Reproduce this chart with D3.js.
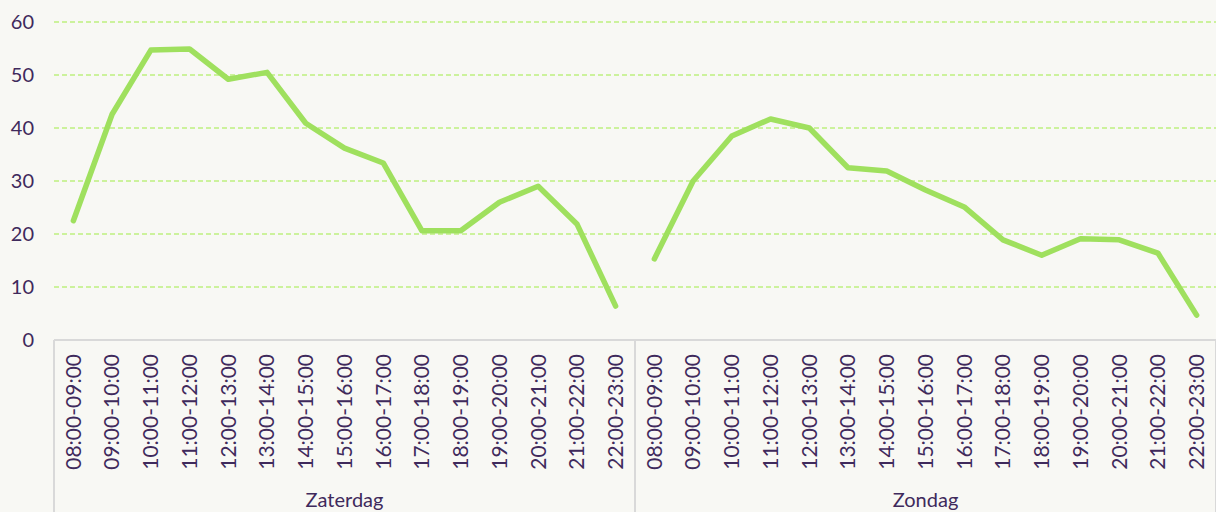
<html>
<head>
<style>
  body { margin: 0; background: #f8f8f4; }
  svg { display: block; font-family: Lato, "Open Sans", sans-serif; }
</style>
</head>
<body>
<script src="https://d3js.org/d3.v7.min.js"></script>
<script>
var days = ['Zaterdag', 'Zondag'];
var hours = ['08:00-09:00', '09:00-10:00', '10:00-11:00', '11:00-12:00', '12:00-13:00',
             '13:00-14:00', '14:00-15:00', '15:00-16:00', '16:00-17:00', '17:00-18:00',
             '18:00-19:00', '19:00-20:00', '20:00-21:00', '21:00-22:00', '22:00-23:00'];
var zaterdag = [22.5, 42.6, 54.7, 54.9, 49.2, 50.5, 40.9, 36.2, 33.4, 20.6, 20.6, 26.0, 29.0, 21.9, 6.4];
var zondag = [15.3, 30.0, 38.5, 41.7, 40.0, 32.5, 31.9, 28.3, 25.1, 18.9, 16.0, 19.1, 18.9, 16.4, 4.7];
var yTicks = [0, 10, 20, 30, 40, 50, 60];

var w = 1216, h = 512;
var mLeft = 54, mRight = 1216, mTop = 22, mBottom = 340;
var textColor = '#3f2a5c';

var svg = d3.select('body').append('svg')
  .attr('width', w).attr('height', h);

svg.append('rect').attr('width', w).attr('height', h).attr('fill', '#f8f8f4');

var keys = [];
days.forEach(function(d) { hours.forEach(function(hr) { keys.push(d + '|' + hr); }); });

var x = d3.scaleBand().domain(keys).range([mLeft, mRight]);
var y = d3.scaleLinear().domain([0, 60]).range([mBottom, mTop]);

// gridlines
svg.selectAll('.grid').data(yTicks.filter(function(t) { return t > 0; }))
  .enter().append('line')
  .attr('x1', mLeft).attr('x2', mRight)
  .attr('y1', function(d) { return y(d); }).attr('y2', function(d) { return y(d); })
  .attr('stroke', '#bdf07f').attr('stroke-width', 1.5)
  .attr('stroke-dasharray', '5,3');

// y labels
svg.selectAll('.ylab').data(yTicks).enter().append('text')
  .attr('x', 34).attr('y', function(d) { return y(d); })
  .attr('dy', '0.35em')
  .attr('text-anchor', 'end')
  .attr('fill', textColor).attr('font-size', 20)
  .text(function(d) { return d; });

// x axis line and group separators
svg.append('line').attr('x1', mLeft).attr('x2', mRight)
  .attr('y1', mBottom).attr('y2', mBottom)
  .attr('stroke', '#d9d9d9').attr('stroke-width', 2);

var seps = [mLeft, x(days[1] + '|' + hours[0]), mRight];
svg.selectAll('.sep').data(seps).enter().append('line')
  .attr('x1', function(d) { return d; }).attr('x2', function(d) { return d; })
  .attr('y1', mBottom).attr('y2', h)
  .attr('stroke', '#d9d9d9').attr('stroke-width', 2);

// hour labels
svg.selectAll('.xlab').data(keys).enter().append('text')
  .attr('transform', function(d) {
    return 'translate(' + (x(d) + x.bandwidth() / 2) + ',' + 354 + ') rotate(-90)';
  })
  .attr('dy', '0.35em')
  .attr('text-anchor', 'end')
  .attr('fill', textColor).attr('font-size', 21)
  .text(function(d) { return d.split('|')[1]; });

// day labels
svg.selectAll('.day').data(days).enter().append('text')
  .attr('x', function(d, i) { return (seps[i] + seps[i + 1]) / 2; })
  .attr('y', 507)
  .attr('text-anchor', 'middle')
  .attr('fill', textColor).attr('font-size', 20)
  .text(function(d) { return d; });

// lines
var line = d3.line()
  .x(function(d) { return x(d.key) + x.bandwidth() / 2; })
  .y(function(d) { return y(d.v); });

[zaterdag, zondag].forEach(function(series, i) {
  var pts = series.map(function(v, j) { return { key: days[i] + '|' + hours[j], v: v }; });
  svg.append('path').datum(pts)
    .attr('d', line)
    .attr('fill', 'none')
    .attr('stroke', '#9fe05e')
    .attr('stroke-width', 5.5)
    .attr('stroke-linejoin', 'round')
    .attr('stroke-linecap', 'round');
});
</script>
</body>
</html>
